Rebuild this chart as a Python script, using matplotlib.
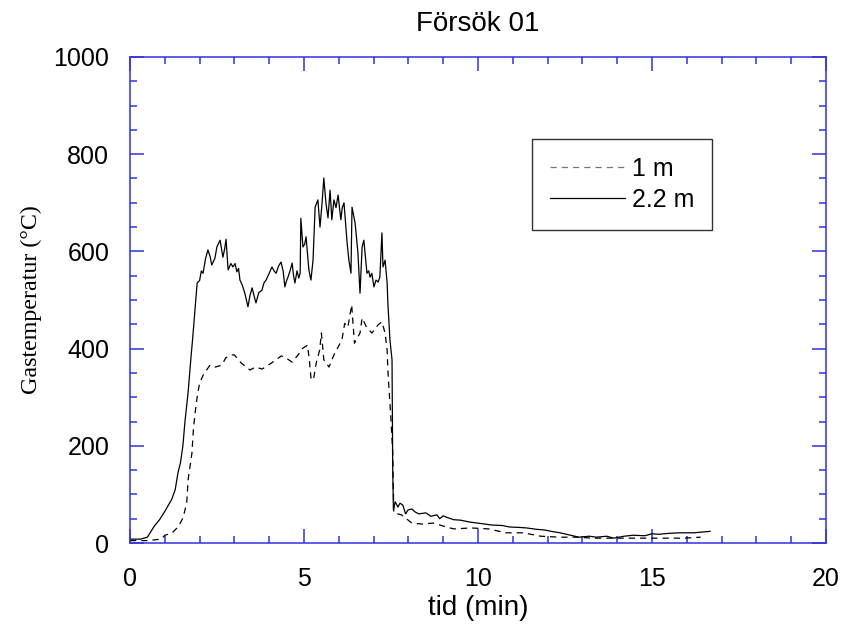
import numpy as np
import matplotlib.pyplot as plt
from matplotlib.ticker import MultipleLocator

# Försök 01 - gastemperatur vid 1 m och 2.2 m
t_22 = [0, 0.3, 0.5, 0.57, 0.7, 0.85, 1.0, 1.2, 1.3, 1.38, 1.45, 1.52, 1.58, 1.67,
        1.75, 1.8, 1.93, 2.0, 2.05, 2.1, 2.17, 2.24, 2.3, 2.35, 2.44, 2.5, 2.59,
        2.67, 2.72, 2.76, 2.82, 2.9, 2.96, 3.02, 3.07, 3.12, 3.16, 3.23, 3.3, 3.39,
        3.45, 3.51, 3.56, 3.62, 3.7, 3.79, 3.85, 3.91, 4.0, 4.08, 4.14, 4.2, 4.27,
        4.34, 4.4, 4.45, 4.5, 4.54, 4.6, 4.66, 4.7, 4.74, 4.8, 4.85, 4.89, 4.91,
        4.97, 5.02, 5.06, 5.14, 5.2, 5.26, 5.32, 5.4, 5.46, 5.52, 5.57, 5.63, 5.69,
        5.75, 5.8, 5.86, 5.92, 5.98, 6.06, 6.1, 6.15, 6.24, 6.29, 6.35, 6.38, 6.47,
        6.55, 6.61, 6.67, 6.72, 6.81, 6.86, 6.9, 6.95, 7.01, 7.07, 7.13, 7.18, 7.24,
        7.27, 7.33, 7.39, 7.41, 7.47, 7.53, 7.55, 7.57, 7.62, 7.7, 7.76, 7.84, 7.92,
        7.99, 8.1, 8.19, 8.3, 8.5, 8.65, 8.82, 8.9, 9.0, 9.1, 9.3, 9.5, 9.77, 10.1,
        10.4, 10.7, 10.9, 11.2, 11.4, 11.7, 11.9, 12.1, 12.36, 12.6, 12.9, 13.2,
        13.4, 13.7, 13.9, 14.2, 14.45, 14.8, 15.0, 15.2, 15.5, 15.8, 16.2, 16.5,
        16.67]
T_22 = [8, 8, 12, 20, 35, 48, 65, 90, 110, 145, 165, 200, 250, 310,
        380, 420, 535, 540, 560, 555, 585, 603, 590, 572, 586, 610, 623,
        588, 605, 625, 562, 575, 568, 575, 558, 565, 541, 530, 514, 486,
        510, 525, 510, 494, 515, 520, 535, 541, 555, 568, 560, 555, 570,
        578, 560, 527, 540, 547, 560, 576, 550, 535, 560, 545, 555, 668,
        609, 615, 630, 562, 541, 582, 691, 706, 650, 700, 751, 700, 669,
        726, 665, 706, 690, 716, 665, 690, 700, 617, 582, 555, 691, 658,
        597, 514, 609, 623, 555, 560, 547, 555, 527, 541, 537, 547, 638,
        568, 582, 535, 494, 418, 377, 150, 68, 85, 74, 82, 78, 60,
        68, 70, 64, 60, 62, 55, 58, 50, 56, 53, 48, 47, 43, 40,
        37, 36, 33, 32, 31, 28, 27, 24, 21, 17, 12, 14,
        12, 14, 10, 14, 16, 15, 19, 18, 20, 21, 21, 23,
        24]

t_1 = [0, 0.5, 0.9, 1.0, 1.2, 1.38, 1.52, 1.63, 1.67, 1.78, 1.82, 1.87, 1.93, 2.0,
       2.1, 2.2, 2.3, 2.45, 2.64, 2.75, 2.93, 3.0, 3.2, 3.45, 3.6, 3.8, 3.95, 4.1,
       4.35, 4.5, 4.66, 4.83, 4.97, 5.1, 5.15, 5.2, 5.27, 5.35, 5.45, 5.5, 5.57,
       5.72, 5.86, 6.09, 6.17, 6.26, 6.37, 6.45, 6.61, 6.67, 6.8, 6.95, 7.13, 7.24,
       7.33, 7.39, 7.41, 7.44, 7.5, 7.55, 7.58, 7.8, 8.1, 8.4, 8.7, 8.9, 9.3, 9.8,
       10.3, 10.8, 11.3, 11.8, 12.36, 12.85, 13.3, 13.9, 14.4, 14.9, 15.4, 15.9,
       16.4]
T_1 = [5, 5, 8, 16, 20, 33, 51, 82, 130, 185, 232, 267, 300, 329,
       345, 356, 366, 362, 366, 381, 387, 387, 370, 356, 362, 358, 365, 372,
       385, 380, 372, 387, 401, 407, 380, 340, 335, 370, 397, 432, 377,
       362, 387, 418, 452, 444, 490, 411, 432, 463, 444, 432, 449, 455,
       432, 397, 356, 321, 253, 185, 62, 58, 41, 39, 41, 37, 29, 31,
       29, 21, 21, 14, 12, 12, 10, 10, 10, 10, 10, 10,
       12]

x_ticks = [0, 5, 10, 15, 20]
y_ticks = [0, 200, 400, 600, 800, 1000]

blue = '#3232e0'

fig = plt.figure(figsize=(8.43, 6.36), dpi=100)
ax = fig.add_axes([0.1542, 0.1462, 0.8256, 0.7642])

ax.plot(t_1, T_1, color='black', lw=0.9, linestyle=(0, (5, 4)), label='1 m')
ax.plot(t_22, T_22, color='black', lw=0.9, label='2.2 m')

ax.set_xlim(0, 20)
ax.set_ylim(0, 1000)
ax.set_xticks(x_ticks)
ax.set_yticks(y_ticks)
ax.xaxis.set_minor_locator(MultipleLocator(1))
ax.yaxis.set_minor_locator(MultipleLocator(50))

for s in ax.spines.values():
    s.set_color(blue)
    s.set_linewidth(1.1)
ax.tick_params(which='both', direction='in', top=True, right=True, color=blue, width=1.1)
ax.tick_params(which='major', length=10, labelsize=18)
ax.tick_params(which='minor', length=5)
ax.tick_params(axis='y', which='major', pad=15)
ax.tick_params(axis='x', which='major', pad=17)
for lab in ax.get_xticklabels() + ax.get_yticklabels():
    lab.set_family('Liberation Sans')

ax.set_title('Försök 01', family='Liberation Sans', fontsize=20, pad=19)
ax.set_xlabel('tid (min)', family='Liberation Sans', fontsize=20, labelpad=3)
ax.set_ylabel('Gastemperatur (°C)', family='Liberation Serif', fontsize=17.3, labelpad=8)

leg = ax.legend(loc='upper left', bbox_to_anchor=(0.578, 0.831), frameon=True,
                fancybox=False, edgecolor='#333333', framealpha=1,
                prop={'family': 'Liberation Sans', 'size': 18},
                handlelength=3.0, handletextpad=0.3, borderpad=0.7,
                labelspacing=0.3, borderaxespad=0)
leg.get_frame().set_linewidth(1.0)
leg.get_lines()[0].set_color('#777777')

fig.savefig('out.png', dpi=100)
